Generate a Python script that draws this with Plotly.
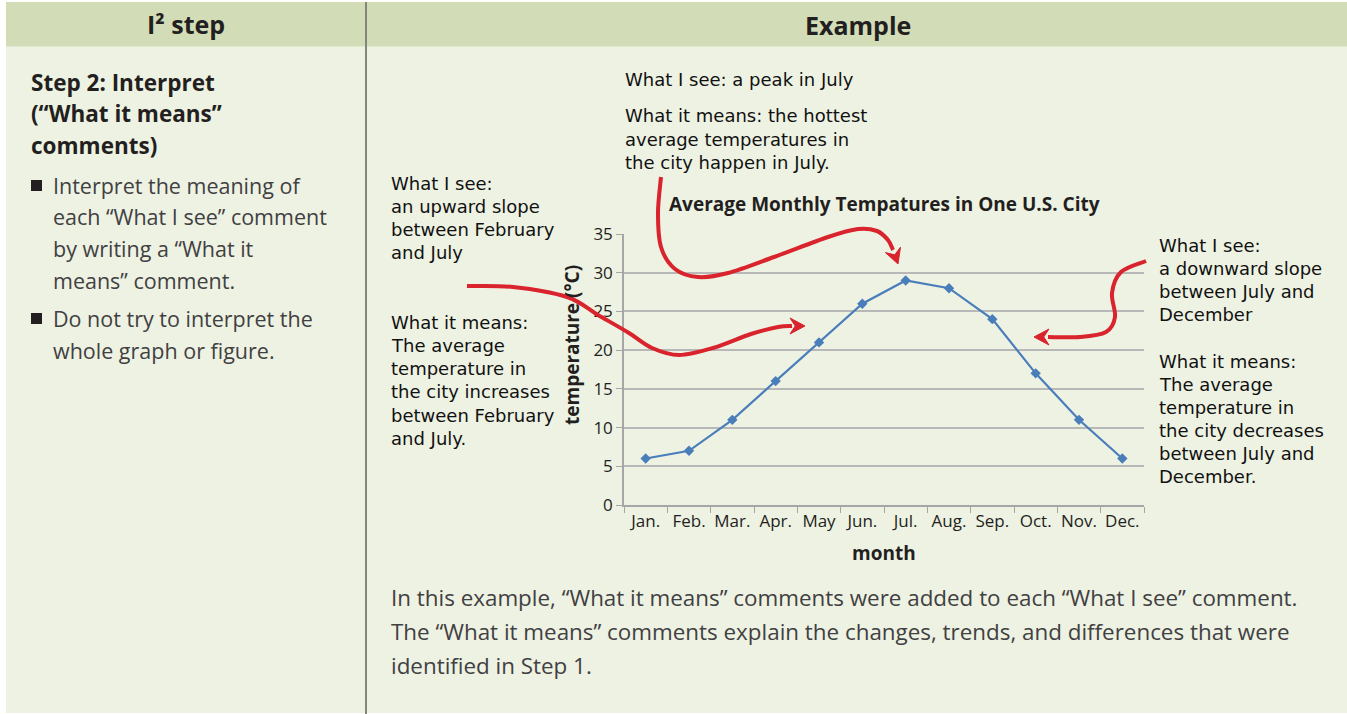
import plotly.graph_objects as go

# ---------------- data ----------------
months = ["Jan.", "Feb.", "Mar.", "Apr.", "May", "Jun.", "Jul.", "Aug.", "Sep.", "Oct.", "Nov.", "Dec."]
temps = [6, 7, 11, 16, 21, 26, 29, 28, 24, 17, 11, 6]
y_ticks = [0, 5, 10, 15, 20, 25, 30, 35]

chart_title = "Average Monthly Tempatures in One U.S. City"
x_title = "month"
y_title = "temperature (°C)"

header_left = "I² step"
header_right = "Example"
step_title = ["Step 2: Interpret", "(“What it means”", "comments)"]
bullet1 = ["Interpret the meaning of", "each “What I see” comment", "by writing a “What it", "means” comment."]
bullet2 = ["Do not try to interpret the", "whole graph or figure."]

note_top = ["What I see: a peak in July", None, "What it means: the hottest",
            "average temperatures in", "the city happen in July."]
note_left = ["What I see:", "an upward slope", "between February", "and July", None, None,
             "What it means:", "The average", "temperature in", "the city increases",
             "between February", "and July."]
note_right = ["What I see:", "a downward slope", "between July and", "December", None,
              "What it means:", "The average", "temperature in", "the city decreases",
              "between July and", "December."]
bottom_text = ["In this example, “What it means” comments were added to each “What I see” comment.",
               "The “What it means” comments explain the changes, trends, and differences that were",
               "identified in Step 1."]

# ---------------- layout helpers ----------------
W, H = 1347, 714
L, R, T, B = 624, 1144, 234, 505

def px(x):
    return (x - L) / (R - L)

def py(y):
    return (B - y) / (B - T)

HEADER_BG = "#d2ddb7"
BODY_BG = "#eef2e3"
RED = "#d9232d"
DARK = "#231f20"
GRAY_TXT = "#414042"
HAND = "DejaVu Sans"
SANS = "Open Sans"

def smooth_path(pts):
    P = [(px(x), py(y)) for x, y in pts]
    d = "M %.5f,%.5f" % P[0]
    n = len(P)
    for i in range(n - 1):
        p0 = P[i - 1] if i > 0 else P[i]
        p1 = P[i]
        p2 = P[i + 1]
        p3 = P[i + 2] if i + 2 < n else P[i + 1]
        c1 = (p1[0] + (p2[0] - p0[0]) / 6, p1[1] + (p2[1] - p0[1]) / 6)
        c2 = (p2[0] - (p3[0] - p1[0]) / 6, p2[1] - (p3[1] - p1[1]) / 6)
        d += " C %.5f,%.5f %.5f,%.5f %.5f,%.5f" % (c1[0], c1[1], c2[0], c2[1], p2[0], p2[1])
    return d

def arrow_head(base, tip, length=15, half=8):
    bx, by = base
    tx, ty = tip
    dx, dy = tx - bx, ty - by
    n = (dx * dx + dy * dy) ** 0.5
    ux, uy = dx / n, dy / n
    vx, vy = -uy, ux
    sx, sy = tx - ux * length, ty - uy * length
    w1 = (sx + vx * half, sy + vy * half)
    w2 = (sx - vx * half, sy - vy * half)
    notch = (tx - ux * length * 0.65, ty - uy * length * 0.65)
    pts = [tip, w1, notch, w2]
    d = "M " + " L ".join("%.5f,%.5f" % (px(x), py(y)) for x, y in pts) + " Z"
    return d

arrows = [
    ([(661, 177), (658, 213), (661, 247), (675, 269), (698, 277), (728, 273), (774, 257),
      (828, 237), (858, 229), (877, 231), (888, 240), (893, 250)], (898, 264)),
    ([(467, 286), (513, 287), (567, 297), (598, 315), (629, 333), (652, 348), (679, 355),
      (713, 348), (751, 334), (778, 327), (792, 326)], (805, 326)),
    ([(1146, 261), (1121, 272), (1112, 293), (1115, 317), (1106, 332), (1080, 337), (1048, 337)],
     (1034, 337)),
]

shapes = [
    dict(type="rect", xref="paper", yref="paper", x0=px(6), x1=px(1347), y0=py(46), y1=py(713),
         fillcolor=BODY_BG, line=dict(width=0), layer="below"),
    dict(type="rect", xref="paper", yref="paper", x0=px(6), x1=px(1347), y0=py(2), y1=py(46.5),
         fillcolor=HEADER_BG, line=dict(width=0), layer="below"),
    dict(type="line", xref="paper", yref="paper", x0=px(366), x1=px(366), y0=py(2), y1=py(714),
         line=dict(color="#85857c", width=2), layer="below"),
    dict(type="rect", xref="paper", yref="paper", x0=px(31), x1=px(42), y0=py(180), y1=py(191),
         fillcolor=DARK, line=dict(width=0), layer="below"),
    dict(type="rect", xref="paper", yref="paper", x0=px(31), x1=px(42), y0=py(313), y1=py(324),
         fillcolor=DARK, line=dict(width=0), layer="below"),
]
for pts, tip in arrows:
    shapes.append(dict(type="path", xref="paper", yref="paper", path=smooth_path(pts),
                       line=dict(color=RED, width=4), layer="above"))
    shapes.append(dict(type="path", xref="paper", yref="paper", path=arrow_head(pts[-1], tip),
                       fillcolor=RED, line=dict(color=RED, width=1), layer="above"))

annotations = []

def add_text(text, x, y, size, color, family, bold=False, xanchor="left", angle=0):
    if bold:
        text = "<b>" + text + "</b>"
    annotations.append(dict(text=text, x=px(x), y=py(y), xref="paper", yref="paper",
                            xanchor=xanchor, yanchor="middle", showarrow=False,
                            textangle=angle,
                            font=dict(size=size, color=color, family=family)))

# header
add_text(header_left, 186, 24, 25, DARK, SANS, bold=True, xanchor="center")
add_text(header_right, 858, 25, 25, DARK, SANS, bold=True, xanchor="center")

# left column
for i, line in enumerate(step_title):
    add_text(line, 29, 82 + i * 31.5, 22.5, DARK, SANS, bold=True)
for i, line in enumerate(bullet1):
    add_text(line, 51, 185 + i * 31.7, 21.5, GRAY_TXT, SANS)
for i, line in enumerate(bullet2):
    add_text(line, 51, 318 + i * 32, 21.5, GRAY_TXT, SANS)

# handwritten notes
tops = [80, 103, 116, 139, 162]
for line, y in zip(note_top, tops):
    if line:
        add_text(line, 623, y, 18, "#111111", HAND)
for i, line in enumerate(note_left):
    if line:
        add_text(line, 389, 183 + i * 23.2, 18, "#111111", HAND)
ys_right = [245, 268, 291, 314, None, 361, 384, 407, 430, 453, 476]
for line, y in zip(note_right, ys_right):
    if line:
        add_text(line, 1157, y, 18, "#111111", HAND)

# chart titles
add_text(chart_title, 884, 204, 19, DARK, SANS, bold=True, xanchor="center")
add_text(x_title, 884, 553, 19, DARK, SANS, bold=True, xanchor="center")
add_text(y_title, 572, 345, 19, DARK, SANS, bold=True, xanchor="center", angle=-90)

# bottom paragraph
for i, line in enumerate(bottom_text):
    add_text(line, 389, 597 + i * 34, 22.4, GRAY_TXT, SANS)

fig = go.Figure()
fig.add_trace(go.Scatter(
    x=months, y=temps, mode="lines+markers",
    line=dict(color="#4a7ebb", width=2.2),
    marker=dict(symbol="diamond", size=8, color="#4a7ebb"),
    showlegend=False, hoverinfo="x+y",
))

fig.update_layout(
    width=W, height=H,
    margin=dict(l=L, r=W - R, t=T, b=H - B, pad=0),
    paper_bgcolor="white",
    plot_bgcolor="rgba(0,0,0,0)",
    shapes=shapes,
    annotations=annotations,
    showlegend=False,
    xaxis=dict(
        type="category", range=[-0.5, 11.5], tickangle=0,
        showgrid=False, showline=True, linecolor="#a6a6a6", linewidth=1.5,
        ticks="outside", tickson="boundaries", ticklen=6, tickcolor="#a6a6a6",
        tickfont=dict(size=17, color=DARK, family=SANS), zeroline=False,
    ),
    yaxis=dict(
        range=[0, 35], tickvals=y_ticks, ticktext=[str(v) for v in y_ticks],
        showgrid=True, gridcolor="#b8b8b8", gridwidth=1.5,
        showline=True, linecolor="#a6a6a6", linewidth=1.5,
        ticks="outside", ticklen=6, tickcolor="#a6a6a6",
        tickfont=dict(size=17, color=DARK, family=SANS), zeroline=False,
    ),
)

fig.write_html("out.html", config={"displayModeBar": False},
               post_script="document.body.style.margin='0px';")
